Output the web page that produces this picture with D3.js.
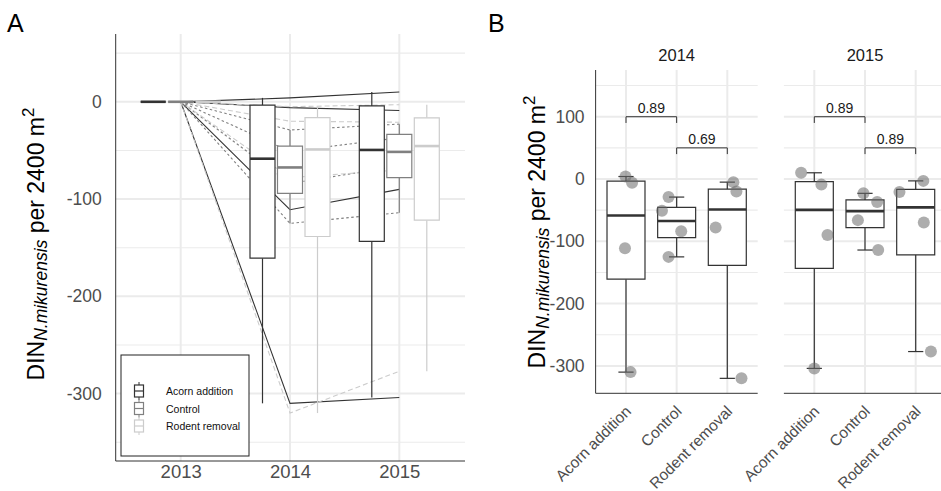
<!DOCTYPE html>
<html>
<head>
<meta charset="utf-8">
<script src="https://cdn.jsdelivr.net/npm/d3@7"></script>
<style>
  body { margin: 0; background: #fff; }
  svg { display: block; font-family: "Liberation Sans", Arial, sans-serif; }
</style>
</head>
<body>
<svg id="chart" width="941" height="491"></svg>
<script>
// Years and treatments
const years = ["2013", "2014", "2015"];
const treatments = ["Acorn addition", "Control", "Rodent removal"];

// Change in DIN (N. mikurensis) per 2400 m2 relative to 2013, one entry per plot
const baseline2013 = [0, 0, 0, 0];
const acorn2014 = [4, -6, -111, -310];
const acorn2015 = [10, -9, -90, -304];
const control2014 = [-29, -51, -84, -125];
const control2015 = [-23, -37, -66, -114];
const rodent2014 = [-5, -20, -78, -320];
const rodent2015 = [-3, -21, -70, -277];

// Horizontal jitter of the points in panel B (fraction of category spacing)
const jitterAcorn2014 = [-0.01, 0.12, -0.02, 0.09];
const jitterControl2014 = [-0.16, -0.29, 0.09, -0.16];
const jitterRodent2014 = [0.12, 0.18, -0.23, 0.28];
const jitterAcorn2015 = [-0.26, 0.14, 0.26, 0.0];
const jitterControl2015 = [-0.03, 0.24, -0.14, 0.26];
const jitterRodent2015 = [0.15, -0.32, 0.16, 0.30];

// Pairwise comparison p-values (Acorn vs Control, Control vs Rodent) and bracket heights
const pairs = [["Acorn addition", "Control"], ["Control", "Rodent removal"]];
const pValues2014 = ["0.89", "0.69"];
const pValues2015 = ["0.89", "0.89"];
const bracketY = [100, 50];

// Axis ticks
const yTicksA = [0, -100, -200, -300];
const yMinorA = [50, -50, -150, -250, -350];
const yTicksB = [100, 0, -100, -200, -300];
const yMinorB = [150, 50, -50, -150, -250];

// Assemble per-plot series and per-year tables
const byTreatment = {
  "Acorn addition": { "2013": baseline2013, "2014": acorn2014, "2015": acorn2015 },
  "Control": { "2013": baseline2013, "2014": control2014, "2015": control2015 },
  "Rodent removal": { "2013": baseline2013, "2014": rodent2014, "2015": rodent2015 }
};
const jitter = {
  "2014": { "Acorn addition": jitterAcorn2014, "Control": jitterControl2014, "Rodent removal": jitterRodent2014 },
  "2015": { "Acorn addition": jitterAcorn2015, "Control": jitterControl2015, "Rodent removal": jitterRodent2015 }
};
const pValues = { "2014": pValues2014, "2015": pValues2015 };

const colour = d3.scaleOrdinal().domain(treatments).range(["#333333", "#808080", "#cccccc"]);
const dash = d3.scaleOrdinal().domain(treatments).range(["none", "2.5,2.5", "5,3"]);
const plainNumber = d => String(d);   // hyphen-minus for negatives

function boxStats(vals) {
  const s = vals.slice().sort(d3.ascending);
  const q1 = d3.quantileSorted(s, 0.25), med = d3.quantileSorted(s, 0.5), q3 = d3.quantileSorted(s, 0.75);
  const iqr = q3 - q1;
  const lo = d3.min(s.filter(v => v >= q1 - 1.5 * iqr));
  const hi = d3.max(s.filter(v => v <= q3 + 1.5 * iqr));
  return { q1, med, q3, lo, hi };
}

const svg = d3.select("#chart");
const GRID = "#ebebeb";
const AXIS = "#333333";
const TICK = "#4d4d4d";

// y-axis title: DIN with italic subscript and squared unit
function yTitle(g, x, y) {
  const t = g.append("text")
    .attr("transform", `translate(${x},${y}) rotate(-90)`)
    .attr("text-anchor", "middle")
    .attr("font-size", 23)
    .attr("fill", "#000");
  t.append("tspan").text("DIN");
  t.append("tspan").attr("font-size", 17.5).attr("font-style", "italic").attr("dy", 3.5).text("N.mikurensis");
  t.append("tspan").attr("dy", -3.5).text(" per 2400 m");
  t.append("tspan").attr("font-size", 17).attr("dy", -10).text("2");
}

/* ---------------- Panel A ---------------- */
const A = { left: 115.7, right: 465, top: 34, bottom: 461 };
const gA = svg.append("g");
const xA = d3.scalePoint().domain(years).range([180.7, 399.3]);
const dodge = d3.scalePoint().domain(treatments).range([-27.5, 27.5]);
const yA = d3.scaleLinear().domain([-369.3, 69.7]).range([A.bottom, A.top]);
const boxWA = 25;

gA.append("text").attr("x", 7).attr("y", 32).attr("font-size", 25).text("A");

// grid
gA.selectAll(".minA").data(yMinorA).join("line")
  .attr("x1", A.left).attr("x2", A.right).attr("y1", d => yA(d)).attr("y2", d => yA(d))
  .attr("stroke", GRID).attr("stroke-width", 1.1);
gA.selectAll(".majA").data(yTicksA).join("line")
  .attr("x1", A.left).attr("x2", A.right).attr("y1", d => yA(d)).attr("y2", d => yA(d))
  .attr("stroke", GRID).attr("stroke-width", 2);
gA.selectAll(".vA").data(years).join("line")
  .attr("x1", d => xA(d)).attr("x2", d => xA(d)).attr("y1", A.top).attr("y2", A.bottom)
  .attr("stroke", GRID).attr("stroke-width", 2);

// per-plot trajectories
const lineGen = d3.line().x(d => xA(d.year)).y(d => yA(d.value));
treatments.forEach(t => {
  const series = byTreatment[t];
  series["2014"].forEach((_, i) => {
    const pts = years.map(yr => ({ year: yr, value: series[yr][i] }));
    gA.append("path").datum(pts).attr("d", lineGen)
      .attr("fill", "none").attr("stroke", colour(t)).attr("stroke-width", 1.1)
      .attr("stroke-dasharray", dash(t));
  });
});

// dodged boxplots
function drawBox(g, cx, w, st, col, sw, medW, y) {
  g.append("line").attr("x1", cx).attr("x2", cx).attr("y1", y(st.q3)).attr("y2", y(st.hi))
    .attr("stroke", col).attr("stroke-width", sw);
  g.append("line").attr("x1", cx).attr("x2", cx).attr("y1", y(st.q1)).attr("y2", y(st.lo))
    .attr("stroke", col).attr("stroke-width", sw);
  g.append("path")
    .attr("d", `M${cx - w / 2},${y(st.q3)}H${cx + w / 2}V${y(st.q1)}H${cx - w / 2}Z`)
    .attr("fill", "#fff").attr("stroke", col).attr("stroke-width", sw);
  g.append("line").attr("x1", cx - w / 2).attr("x2", cx + w / 2).attr("y1", y(st.med)).attr("y2", y(st.med))
    .attr("stroke", col).attr("stroke-width", medW);
}
years.forEach(yr => {
  treatments.forEach(t => {
    const st = boxStats(byTreatment[t][yr]);
    drawBox(gA, xA(yr) + dodge(t), boxWA, st, colour(t), 1.2, 2.6, yA);
  });
});

// axes
gA.append("line").attr("x1", A.left).attr("x2", A.left).attr("y1", A.top).attr("y2", A.bottom)
  .attr("stroke", AXIS).attr("stroke-width", 1);
gA.append("line").attr("x1", A.left).attr("x2", A.right).attr("y1", A.bottom).attr("y2", A.bottom)
  .attr("stroke", AXIS).attr("stroke-width", 1);
const axA = gA.append("g").attr("transform", `translate(${A.left},0)`)
  .call(d3.axisLeft(yA).tickValues(yTicksA).tickFormat(plainNumber).tickSize(0).tickPadding(14));
axA.select(".domain").remove();
axA.selectAll("text").attr("font-size", 17.5).attr("fill", TICK).attr("font-family", null);
const axAx = gA.append("g").attr("transform", `translate(0,${A.bottom})`)
  .call(d3.axisBottom(xA).tickSize(0).tickPadding(4));
axAx.select(".domain").remove();
axAx.selectAll("text").attr("font-size", 18.5).attr("fill", TICK).attr("font-family", null);

yTitle(gA, 43.5, 244);

// legend
const leg = gA.append("g");
leg.append("rect").attr("x", 121).attr("y", 355).attr("width", 128).attr("height", 101)
  .attr("fill", "#fff").attr("stroke", "#222").attr("stroke-width", 1);
treatments.forEach((t, i) => {
  const cy = 391 + i * 17.5, cx = 139, c = colour(t);
  leg.append("line").attr("x1", cx).attr("x2", cx).attr("y1", cy - 9).attr("y2", cy + 9)
    .attr("stroke", c).attr("stroke-width", 1);
  leg.append("rect").attr("x", cx - 4.5).attr("y", cy - 6).attr("width", 9).attr("height", 12)
    .attr("fill", "#fff").attr("stroke", c).attr("stroke-width", 1.2);
  leg.append("line").attr("x1", cx - 4.5).attr("x2", cx + 4.5).attr("y1", cy).attr("y2", cy)
    .attr("stroke", c).attr("stroke-width", 1.2);
  leg.append("text").attr("x", 166).attr("y", cy + 4).attr("font-size", 10.5).attr("fill", "#111").text(t);
});

/* ---------------- Panel B ---------------- */
const B = { top: 70, bottom: 393.3 };
const gB = svg.append("g");
const yB = d3.scaleLinear().domain([-344, 175]).range([B.bottom, B.top]);
const facets = [
  { year: "2014", x: d3.scalePoint().domain(treatments).range([626, 727.3]) },
  { year: "2015", x: d3.scalePoint().domain(treatments).range([814.3, 915.7]) }
];

gB.append("text").attr("x", 488).attr("y", 32).attr("font-size", 25).text("B");

facets.forEach((f, fi) => {
  const step = f.x.step();
  const x0 = f.x(treatments[0]) - 0.6 * step;
  const x1 = f.x(treatments[treatments.length - 1]) + 0.6 * step;
  const g = gB.append("g");

  g.selectAll(".minB").data(yMinorB).join("line")
    .attr("x1", x0).attr("x2", x1).attr("y1", d => yB(d)).attr("y2", d => yB(d))
    .attr("stroke", GRID).attr("stroke-width", 1.1);
  g.selectAll(".majB").data(yTicksB).join("line")
    .attr("x1", x0).attr("x2", x1).attr("y1", d => yB(d)).attr("y2", d => yB(d))
    .attr("stroke", GRID).attr("stroke-width", 2);
  g.selectAll(".vB").data(treatments).join("line")
    .attr("x1", d => f.x(d)).attr("x2", d => f.x(d)).attr("y1", B.top).attr("y2", B.bottom)
    .attr("stroke", GRID).attr("stroke-width", 2);

  // strip label
  g.append("text").attr("x", (x0 + x1) / 2).attr("y", 61).attr("text-anchor", "middle")
    .attr("font-size", 16.5).attr("fill", "#1a1a1a").text(f.year);

  // boxplots with whisker caps
  const boxW = 0.75 * step, capW = 0.3 * step;
  treatments.forEach(t => {
    const vals = byTreatment[t][f.year];
    const st = boxStats(vals);
    const cx = f.x(t);
    [st.lo, st.hi].forEach(v => {
      g.append("line").attr("x1", cx - capW / 2).attr("x2", cx + capW / 2).attr("y1", yB(v)).attr("y2", yB(v))
        .attr("stroke", AXIS).attr("stroke-width", 1.2);
    });
    drawBox(g, cx, boxW, st, AXIS, 1.2, 2.6, yB);
  });

  // plot values
  treatments.forEach(t => {
    const vals = byTreatment[t][f.year];
    const jit = jitter[f.year][t];
    g.selectAll(null).data(vals).join("circle")
      .attr("cx", (d, i) => f.x(t) + jit[i] * step)
      .attr("cy", d => yB(d))
      .attr("r", 6)
      .attr("fill", "rgba(105,105,105,0.55)");
  });

  // comparison brackets
  pairs.forEach((p, k) => {
    const xa = f.x(p[0]), xb = f.x(p[1]), yy = yB(bracketY[k]), tip = yB(bracketY[k] - 10);
    g.append("path").attr("d", `M${xa},${tip}V${yy}H${xb}V${tip}`)
      .attr("fill", "none").attr("stroke", AXIS).attr("stroke-width", 1);
    g.append("text").attr("x", (xa + xb) / 2).attr("y", yy - 4).attr("text-anchor", "middle")
      .attr("font-size", 14).attr("fill", "#1a1a1a").text(pValues[f.year][k]);
  });

  // x axis line and rotated labels
  g.append("line").attr("x1", x0).attr("x2", x1).attr("y1", B.bottom).attr("y2", B.bottom)
    .attr("stroke", AXIS).attr("stroke-width", 1);
  treatments.forEach(t => {
    g.append("text")
      .attr("transform", `translate(${f.x(t) + 6},${B.bottom + 19}) rotate(-45)`)
      .attr("text-anchor", "end")
      .attr("font-size", 15.5).attr("fill", TICK).text(t);
  });

  if (fi === 0) {
    g.append("line").attr("x1", x0).attr("x2", x0).attr("y1", B.top).attr("y2", B.bottom)
      .attr("stroke", AXIS).attr("stroke-width", 1);
    const ax = g.append("g").attr("transform", `translate(${x0},0)`)
      .call(d3.axisLeft(yB).tickValues(yTicksB).tickFormat(plainNumber).tickSize(0).tickPadding(11));
    ax.select(".domain").remove();
    ax.selectAll("text").attr("font-size", 17.5).attr("fill", TICK).attr("font-family", null);
  }
});

yTitle(gB, 545, 232);
</script>
</body>
</html>
